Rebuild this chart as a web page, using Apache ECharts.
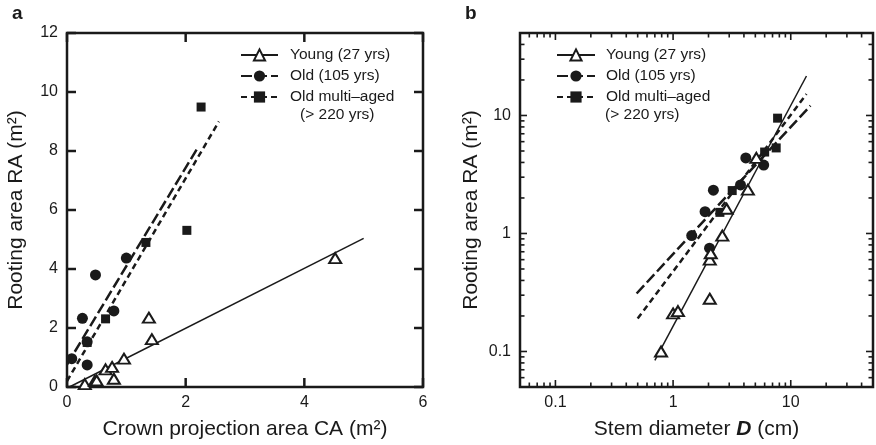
<!DOCTYPE html>
<html><head><meta charset="utf-8">
<script src="https://cdn.jsdelivr.net/npm/echarts@6/dist/echarts.min.js"></script>
<style>html,body{margin:0;padding:0;background:#fff}#c{width:876px;height:445px}</style>
</head><body><div id="c"></div>
<script>
const FONT = '"Liberation Sans", Arial, Helvetica, sans-serif';
const INK = '#1a1a1a';

// ---- data ----
const seriesNames = ['Young (27 yrs)', 'Old (105 yrs)', 'Old multi\u2013aged'];
const extraLegendLine = '(> 220 yrs)';

const youngCA = [0.30, 0.47, 0.50, 0.79, 0.65, 0.76, 0.96, 1.43, 1.38, 4.52];
const youngD  = [0.79, 1.00, 1.10, 2.05, 2.05, 2.09, 2.62, 2.85, 4.32, 5.10];
const youngRA = [0.10, 0.21, 0.22, 0.28, 0.60, 0.68, 0.96, 1.62, 2.35, 4.37];

const oldCA = [0.08, 0.26, 0.34, 0.34, 0.48, 0.79, 1.00];
const oldD  = [1.44, 2.20, 1.87, 2.04, 5.89, 3.74, 4.15];
const oldRA = [0.96, 2.33, 1.53, 0.75, 3.80, 2.58, 4.37];

const multiCA = [2.26, 2.02, 1.33, 0.65, 0.34];
const multiD  = [7.73, 7.52, 6.00, 3.18, 2.50];
const multiRA = [9.49, 5.31, 4.90, 2.31, 1.51];

// regression lines (endpoints)
const fitAYoung = [[0.04, 0.0], [5.0, 5.04]];
const fitAOld   = [[0.0, 0.76], [2.2, 8.1]];
const fitAMulti = [[0.0, 0.2], [2.56, 9.0]];
const fitBYoung = [[0.70, 0.084], [13.6, 21.6]];
const fitBOld   = [[0.49, 0.31], [14.7, 12.1]];
const fitBMulti = [[0.50, 0.19], [13.6, 15.2]];

// axes
const caRange = [0, 6], caStep = 2;
const raRange = [0, 12], raStep = 2;
const caTicks = [0, 2, 4, 6];
const raTicks = [0, 2, 4, 6, 8, 10, 12];
const logRange = [0.05, 50];
const logMajor = [0.1, 1, 10];
const logTickLabels = ['0.1', '1', '10'];
const logMinor = [0.05, 0.06, 0.07, 0.08, 0.09, 0.2, 0.3, 0.4, 0.5, 0.6, 0.7, 0.8, 0.9,
                  2, 3, 4, 5, 6, 7, 8, 9, 20, 30, 40];

const pair = (xs, ys) => xs.map((x, i) => [x, ys[i]]);

const labelStyle = {fontFamily: FONT, fontSize: 16, color: INK};
const nameStyle = {fontFamily: FONT, fontSize: 21, color: INK};

function logFmt(v) {
  const i = logMajor.findIndex(m => Math.abs(m - v) / m < 1e-6);
  return i >= 0 ? logTickLabels[i] : '';
}

// inward tick marks on both opposite sides of a grid, placed through the axis scale
function tickSeries(xi, yi, values, len, dir, anchor, width) {
  return {
    type: 'custom', xAxisIndex: xi, yAxisIndex: yi, silent: true, z: 5, clip: false,
    data: values.map(v => dir === 'x' ? [v, anchor] : [anchor, v]),
    renderItem(params, api) {
      const cs = params.coordSys;
      const p = api.coord([api.value(0), api.value(1)]);
      const st = {stroke: INK, lineWidth: width};
      if (dir === 'x') {
        const b = cs.y + cs.height, t = cs.y;
        return {type: 'group', children: [
          {type: 'line', shape: {x1: p[0], y1: b, x2: p[0], y2: b - len}, style: st},
          {type: 'line', shape: {x1: p[0], y1: t, x2: p[0], y2: t + len}, style: st}]};
      }
      const l = cs.x, r = cs.x + cs.width;
      return {type: 'group', children: [
        {type: 'line', shape: {x1: l, y1: p[1], x2: l + len, y2: p[1]}, style: st},
        {type: 'line', shape: {x1: r, y1: p[1], x2: r - len, y2: p[1]}, style: st}]};
    }
  };
}

function fitLine(name, data, xi, yi, dash, symbol) {
  return {
    name, type: 'line', xAxisIndex: xi, yAxisIndex: yi, data, showSymbol: false,
    symbol, symbolSize: 10, silent: true, z: 2,
    itemStyle: {color: INK, opacity: 1},
    lineStyle: {color: INK, width: dash === 'solid' ? 1.5 : 2.5, type: dash}
  };
}

function pts(data, xi, yi, kind) {
  const base = {type: 'scatter', xAxisIndex: xi, yAxisIndex: yi, data, silent: true, z: 3};
  if (kind === 'tri') return Object.assign(base, {symbol: 'triangle', symbolSize: [12, 10],
    itemStyle: {color: '#fff', borderColor: INK, borderWidth: 2, opacity: 1}, z: 4});
  if (kind === 'circle') return Object.assign(base, {symbol: 'circle', symbolSize: 11,
    itemStyle: {color: INK, opacity: 1}});
  return Object.assign(base, {symbol: 'rect', symbolSize: 9, itemStyle: {color: INK, opacity: 1}});
}

const DASH_LONG = [11, 4], DASH_SHORT = [6, 4];
const noLine = {show: false, onZero: false};

const chart = echarts.init(document.getElementById('c'), null, {renderer: 'canvas'});
chart.setOption({
  animation: false,
  backgroundColor: '#fff',
  grid: [
    {left: 67, top: 33, width: 356, height: 355, show: true, borderColor: INK, borderWidth: 2.5, backgroundColor: 'transparent'},
    {left: 520, top: 33, width: 355, height: 355, show: true, borderColor: INK, borderWidth: 2.5, backgroundColor: 'transparent'}
  ],
  xAxis: [
    {gridIndex: 0, type: 'value', position: 'bottom', min: caRange[0], max: caRange[1], interval: caStep,
     axisLine: noLine, splitLine: {show: false}, axisTick: {show: false},
     axisLabel: Object.assign({margin: 8}, labelStyle),
     name: 'Crown projection area CA (m\u00b2)', nameLocation: 'middle', nameGap: 32, nameTextStyle: nameStyle},
    {gridIndex: 1, type: 'log', logBase: 10, position: 'bottom', min: logRange[0], max: logRange[1],
     axisLine: noLine, splitLine: {show: false}, axisTick: {show: false},
     axisLabel: Object.assign({margin: 8, formatter: logFmt, showMinLabel: true, showMaxLabel: true}, labelStyle),
     name: '{n|Stem diameter }{d|D}{n| (cm)}', nameLocation: 'middle', nameGap: 32,
     nameTextStyle: Object.assign({rich: {n: nameStyle, d: Object.assign({}, nameStyle, {fontWeight: 'bold', fontStyle: 'italic'})}}, nameStyle)}
  ],
  yAxis: [
    {gridIndex: 0, type: 'value', position: 'left', min: raRange[0], max: raRange[1], interval: raStep,
     axisLine: noLine, splitLine: {show: false}, axisTick: {show: false},
     axisLabel: Object.assign({margin: 9}, labelStyle),
     name: 'Rooting area RA (m\u00b2)', nameLocation: 'middle', nameGap: 40, nameTextStyle: nameStyle},
    {gridIndex: 1, type: 'log', logBase: 10, position: 'left', min: logRange[0], max: logRange[1],
     axisLine: noLine, splitLine: {show: false}, axisTick: {show: false},
     axisLabel: Object.assign({margin: 9, formatter: logFmt}, labelStyle),
     name: 'Rooting area RA (m\u00b2)', nameLocation: 'middle', nameGap: 38, nameTextStyle: nameStyle}
  ],
  legend: [
    {data: seriesNames, orient: 'vertical', left: 240, top: 47, padding: 0, itemWidth: 37, itemHeight: 14, itemGap: 5,
     selectedMode: false, textStyle: {fontFamily: FONT, fontSize: 15.5, color: INK, lineHeight: 15, padding: [0, 0, 0, 7]}},
    {data: seriesNames, orient: 'vertical', left: 556, top: 47, padding: 0, itemWidth: 38, itemHeight: 14, itemGap: 5,
     selectedMode: false, textStyle: {fontFamily: FONT, fontSize: 15.5, color: INK, lineHeight: 15, padding: [0, 0, 0, 6]}}
  ],
  graphic: [
    {type: 'text', left: 12, top: 4, style: {text: 'a', font: 'bold 19px ' + FONT, fill: INK}},
    {type: 'text', left: 465, top: 4, style: {text: 'b', font: 'bold 19px ' + FONT, fill: INK}},
    {type: 'text', left: 300, top: 107, style: {text: extraLegendLine, font: '15.5px ' + FONT, fill: INK}},
    {type: 'text', left: 605, top: 107, style: {text: extraLegendLine, font: '15.5px ' + FONT, fill: INK}}
  ],
  series: [
    fitLine(seriesNames[0], fitAYoung, 0, 0, 'solid', 'emptyTriangle'),
    fitLine(seriesNames[1], fitAOld, 0, 0, DASH_LONG, 'circle'),
    fitLine(seriesNames[2], fitAMulti, 0, 0, DASH_SHORT, 'rect'),
    pts(pair(oldCA, oldRA), 0, 0, 'circle'),
    pts(pair(multiCA, multiRA), 0, 0, 'rect'),
    pts(pair(youngCA, youngRA), 0, 0, 'tri'),

    fitLine(seriesNames[0], fitBYoung, 1, 1, 'solid', 'emptyTriangle'),
    fitLine(seriesNames[1], fitBOld, 1, 1, DASH_LONG, 'circle'),
    fitLine(seriesNames[2], fitBMulti, 1, 1, DASH_SHORT, 'rect'),
    pts(pair(oldD, oldRA), 1, 1, 'circle'),
    pts(pair(multiD, multiRA), 1, 1, 'rect'),
    pts(pair(youngD, youngRA), 1, 1, 'tri'),

    tickSeries(0, 0, caTicks, 9, 'x', 6, 2.5),
    tickSeries(0, 0, raTicks, 9, 'y', 3, 2.5),
    tickSeries(1, 1, logMajor, 7, 'x', 1, 1.6),
    tickSeries(1, 1, logMinor, 4.5, 'x', 1, 1.6),
    tickSeries(1, 1, logMajor, 7, 'y', 1, 1.6),
    tickSeries(1, 1, logMinor, 4.5, 'y', 1, 1.6)
  ]
});
</script></body></html>
